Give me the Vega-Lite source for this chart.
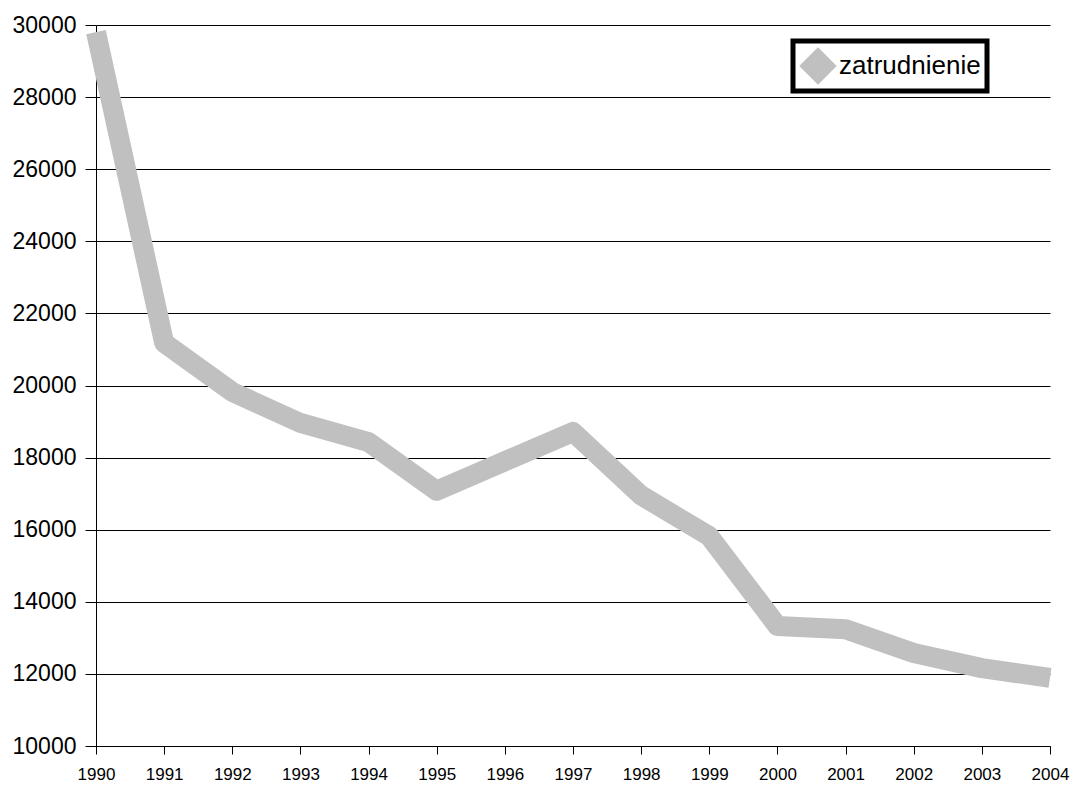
{
  "$schema": "https://vega.github.io/schema/vega-lite/v6.json",
  "width": 954,
  "height": 721,
  "autosize": "none",
  "padding": {"left": 96, "top": 25, "right": 22, "bottom": 39},
  "background": "white",
  "config": {
    "font": "Liberation Sans",
    "view": {"stroke": null}
  },
  "data": {
    "values": [
      {"rok": 1990, "zatrudnienie": 29800},
      {"rok": 1991, "zatrudnienie": 21180},
      {"rok": 1992, "zatrudnienie": 19820},
      {"rok": 1993, "zatrudnienie": 18960},
      {"rok": 1994, "zatrudnienie": 18430},
      {"rok": 1995, "zatrudnienie": 17080},
      {"rok": 1996, "zatrudnienie": 17900},
      {"rok": 1997, "zatrudnienie": 18710},
      {"rok": 1998, "zatrudnienie": 16950},
      {"rok": 1999, "zatrudnienie": 15820},
      {"rok": 2000, "zatrudnienie": 13330},
      {"rok": 2001, "zatrudnienie": 13240},
      {"rok": 2002, "zatrudnienie": 12580},
      {"rok": 2003, "zatrudnienie": 12160},
      {"rok": 2004, "zatrudnienie": 11890}
    ]
  },
  "mark": {"type": "line", "strokeWidth": 20, "strokeCap": "butt", "strokeJoin": "round"},
  "encoding": {
    "x": {
      "field": "rok", "type": "quantitative",
      "scale": {"domain": [1990, 2004], "nice": false, "zero": false},
      "axis": {
        "title": null, "values": [1990,1991,1992,1993,1994,1995,1996,1997,1998,1999,2000,2001,2002,2003,2004],
        "format": "d", "grid": false, "domainColor": "black", "tickColor": "black",
        "tickSize": 8, "labelFontSize": 17, "labelColor": "black", "labelPadding": 12,
        "labelFlush": false
      }
    },
    "y": {
      "field": "zatrudnienie", "type": "quantitative",
      "scale": {"domain": [10000, 30000], "nice": false, "zero": false},
      "axis": {
        "title": null, "values": [10000,12000,14000,16000,18000,20000,22000,24000,26000,28000,30000],
        "format": "d", "grid": true, "gridColor": "black", "gridOpacity": 1,
        "domainColor": "black", "tickColor": "black", "tickSize": 11,
        "labelFontSize": 23, "labelColor": "black", "labelPadding": 9
      }
    },
    "color": {
      "datum": "zatrudnienie", "type": "nominal",
      "scale": {"range": ["#c0c0c0"]},
      "legend": {
        "title": null, "orient": "none", "legendX": 697, "legendY": 16,
        "strokeColor": "black", "padding": 6,
        "symbolType": "diamond", "symbolSize": 1400, "symbolFillColor": "#c0c0c0",
        "symbolStrokeColor": "#c0c0c0", "symbolStrokeWidth": 0, "symbolOpacity": 1,
        "labelFontSize": 26, "labelColor": "black", "labelOffset": 2,
        "encode": {"legend": {"update": {"strokeWidth": {"value": 5}}}}
      }
    }
  }
}
